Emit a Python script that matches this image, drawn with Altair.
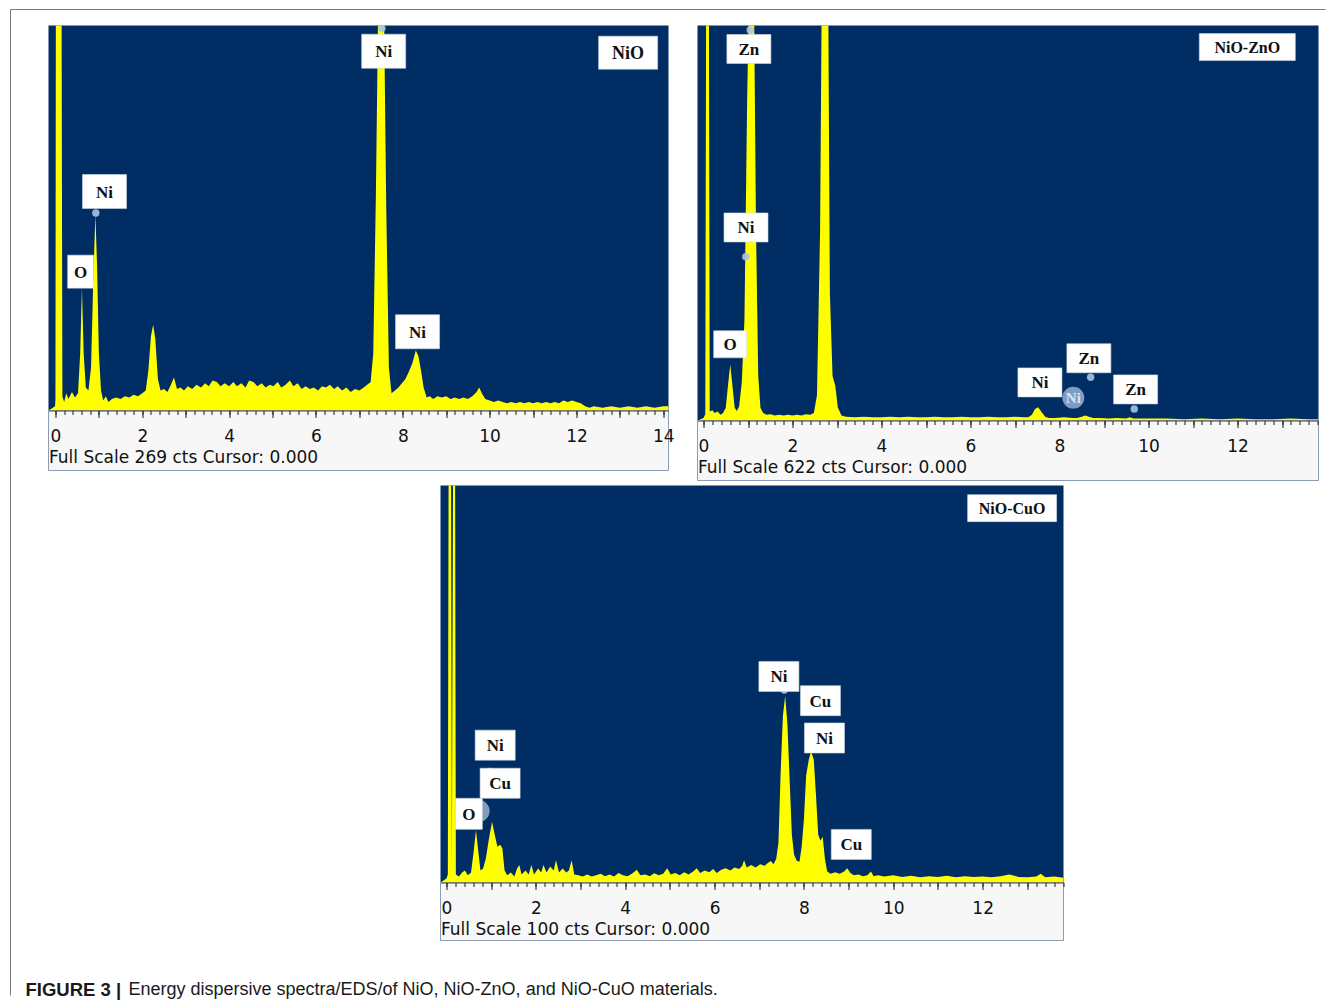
import altair as alt
import pandas as pd

BLUE = "#002E64"
YELLOW = "#FFFF00"
MARK = "#A9C3E2"

# ---------------- NiO spectrum (Full Scale 269 cts) ----------------
nio_e = [-0.16, -0.01, 0.00, 0.01, 0.14, 0.16, 0.20, 0.25, 0.30, 0.38, 0.45, 0.52, 0.57, 0.61, 0.65, 0.70,
         0.76, 0.82, 0.87, 0.92, 0.96, 1.00, 1.05, 1.10, 1.16, 1.22, 1.30, 1.40, 1.50, 1.60, 1.70, 1.80,
         1.90, 2.00, 2.08, 2.14, 2.20, 2.25, 2.30, 2.36, 2.42, 2.50, 2.58, 2.66, 2.73, 2.80, 2.88, 2.96,
         3.05, 3.15, 3.25, 3.35, 3.45, 3.53, 3.62, 3.72, 3.80, 3.90, 4.00, 4.10, 4.18, 4.28, 4.38, 4.46,
         4.56, 4.65, 4.75, 4.84, 4.94, 5.02, 5.12, 5.20, 5.30, 5.40, 5.48, 5.58, 5.67, 5.76, 5.86, 5.95,
         6.05, 6.14, 6.23, 6.32, 6.42, 6.50, 6.60, 6.70, 6.80, 6.90, 7.00, 7.10, 7.18, 7.26, 7.32, 7.38,
         7.44, 7.56, 7.62, 7.68, 7.74, 7.82, 7.90, 7.98, 8.06, 8.14, 8.22, 8.30, 8.36, 8.42, 8.48, 8.55,
         8.62, 8.70, 8.80, 8.90, 9.00, 9.10, 9.20, 9.30, 9.40, 9.50, 9.60, 9.70, 9.76, 9.82, 9.90, 10.00,
         10.10, 10.20, 10.30, 10.40, 10.50, 10.60, 10.70, 10.80, 10.90, 11.00, 11.10, 11.20, 11.30, 11.40,
         11.50, 11.60, 11.70, 11.80, 11.90, 12.00, 12.10, 12.20, 12.30, 12.40, 12.60, 12.80, 13.00, 13.20,
         13.40, 13.60, 13.80, 14.00, 14.12]
nio_c = [0, 3, 8, 300, 300, 10, 6, 12, 8, 13, 9, 12, 40, 86, 40, 16,
         14, 30, 90, 137, 100, 40, 14, 7, 10, 6, 8, 9, 8, 10, 9, 11,
         10, 12, 14, 28, 52, 60, 50, 22, 14, 15, 13, 18, 23, 15, 16, 14,
         17, 15, 18, 16, 19, 17, 21, 20, 17, 19, 17, 20, 17, 19, 16, 21,
         20, 17, 19, 16, 18, 17, 20, 16, 18, 21, 17, 19, 15, 17, 15, 16,
         14, 17, 16, 18, 15, 17, 14, 16, 13, 15, 14, 16, 18, 20, 40, 150,
         300, 300, 140, 30, 12, 14, 16, 19, 22, 27, 33, 42, 38, 28, 16, 9,
         10, 8, 10, 9, 10, 8, 9, 8, 9, 8, 10, 13, 16, 12, 8, 7,
         6, 7, 6, 5, 6, 5, 6, 5, 6, 5, 6, 5, 6, 5,
         6, 5, 7, 6, 7, 6, 5, 3, 2, 3, 2, 3, 2, 3,
         2, 3, 2, 3, 3]
nio_lab_e = [7.56, 1.13, 0.58, 8.34]
nio_lab_c = [251, 153, 97, 55]
nio_lab_t = ["Ni", "Ni", "O", "Ni"]
nio_name = ["NiO"]
nio_name_e = [13.19]
nio_name_c = [250]
nio_mark_e = [0.93, 0.84, 7.52]
nio_mark_c = [138, 148, 267]

# ---------------- NiO-ZnO spectrum (Full Scale 622 cts) ----------------
zno_e = [-0.135, 0.00, 0.04, 0.06, 0.12, 0.14, 0.20, 0.25, 0.32, 0.38, 0.44, 0.50, 0.55, 0.60, 0.65, 0.70,
         0.75, 0.80, 0.86, 0.92, 0.98, 1.03, 1.13, 1.18, 1.23, 1.28, 1.34, 1.42, 1.50, 1.60, 1.70, 1.80,
         1.90, 2.00, 2.10, 2.20, 2.30, 2.40, 2.48, 2.55, 2.62, 2.66, 2.80, 2.84, 2.90, 2.96, 3.02, 3.10,
         3.20, 3.40, 3.60, 3.80, 4.00, 4.20, 4.40, 4.60, 4.80, 5.00, 5.20, 5.40, 5.60, 5.80, 6.00, 6.20,
         6.40, 6.60, 6.80, 7.00, 7.20, 7.30, 7.38, 7.45, 7.52, 7.60, 7.68, 7.76, 7.90, 8.10, 8.30, 8.40,
         8.50, 8.58, 8.66, 8.76, 8.90, 9.10, 9.30, 9.50, 9.58, 9.66, 9.80, 10.00, 10.40, 10.80, 11.20,
         11.60, 12.00, 12.40, 12.80, 13.20, 13.60, 13.82]
zno_c = [0, 4, 10, 700, 700, 14, 16, 12, 14, 9, 12, 20, 55, 88, 55, 20,
         15, 22, 60, 160, 500, 700, 700, 300, 70, 20, 12, 9, 10, 8, 9, 8,
         9, 8, 9, 8, 10, 9, 12, 40, 300, 700, 700, 200, 70, 55, 20, 8,
         6, 5, 6, 5, 5, 6, 5, 6, 5, 5, 6, 5, 5, 6, 5, 5,
         6, 5, 5, 6, 5, 5, 9, 18, 21, 13, 6, 4, 4, 5, 4, 4,
         6, 8, 6, 4, 4, 3, 4, 3, 5, 3, 3, 3, 3, 2, 3,
         2, 3, 2, 2, 3, 2, 2]
zno_lab_e = [1.02, 0.955, 0.60, 7.56, 8.66, 9.71]
zno_lab_c = [585, 304, 120, 60, 98, 49]
zno_lab_t = ["Zn", "Ni", "O", "Ni", "Zn", "Zn"]
zno_name = ["NiO-ZnO"]
zno_name_e = [12.22]
zno_name_c = [588]
zno_mark_e = [1.05, 8.70, 9.68, 0.95]
zno_mark_c = [615, 68, 18, 258]
zno_ghost_e = [8.31]
zno_ghost_c = [36]
zno_ghost_t = ["Ni"]

# ---------------- NiO-CuO spectrum (Full Scale 100 cts) ----------------
cuo_e = [-0.134, 0.00, 0.03, 0.05, 0.10, 0.12, 0.15, 0.19, 0.21, 0.28, 0.35, 0.41, 0.48, 0.55, 0.61, 0.66,
         0.71, 0.76, 0.82, 0.88, 0.95, 1.02, 1.08, 1.14, 1.20, 1.25, 1.30, 1.36, 1.44, 1.52, 1.58, 1.63,
         1.68, 1.77, 1.84, 1.90, 1.96, 2.05, 2.12, 2.17, 2.24, 2.32, 2.40, 2.45, 2.52, 2.60, 2.68, 2.74,
         2.80, 2.86, 2.95, 3.05, 3.15, 3.25, 3.35, 3.45, 3.55, 3.65, 3.75, 3.85, 3.95, 4.05, 4.15, 4.26,
         4.34, 4.45, 4.55, 4.65, 4.75, 4.85, 4.94, 5.02, 5.12, 5.22, 5.32, 5.42, 5.52, 5.60, 5.68, 5.78,
         5.88, 5.97, 6.05, 6.15, 6.25, 6.35, 6.45, 6.55, 6.62, 6.66, 6.72, 6.82, 6.92, 7.02, 7.12, 7.20,
         7.26, 7.32, 7.38, 7.43, 7.48, 7.53, 7.58, 7.63, 7.68, 7.73, 7.78, 7.84, 7.90, 7.95, 8.00, 8.05,
         8.11, 8.16, 8.22, 8.27, 8.32, 8.37, 8.42, 8.47, 8.52, 8.60, 8.70, 8.80, 8.90, 8.97, 9.04, 9.12,
         9.22, 9.32, 9.42, 9.50, 9.56, 9.66, 9.80, 10.00, 10.20, 10.40, 10.60, 10.80, 11.00, 11.20, 11.40,
         11.60, 11.80, 12.00, 12.20, 12.40, 12.60, 12.80, 13.00, 13.20, 13.30, 13.40, 13.60, 13.81]
cuo_c = [0, 1, 2, 120, 120, 3, 120, 120, 2, 1.5, 2.5, 3, 1.8, 2.5, 8, 13.2,
         8, 3, 3.5, 6, 11, 15.3, 12, 9, 9.5, 8.6, 3, 1.8, 2.5, 1.5, 3.5, 4.4,
         2, 3, 2, 4.4, 2, 3.5, 2.5, 4.4, 2.5, 4, 3, 5.6, 2.5, 3.5, 2.5, 3,
         5.6, 2, 1.8, 1.5, 2, 1.5, 1.8, 2.2, 1.6, 2, 1.5, 2.4, 1.8, 1.6, 2.2, 3.2,
         1.8, 2, 1.6, 2.3, 1.8, 2.2, 3.6, 2, 2.4, 1.8, 2.6, 2, 2.8, 3.6, 2.4, 3,
         2.6, 3.4, 2.4, 3.2, 3.6, 3, 3.8, 3.4, 4.2, 5.6, 3.8, 4.4, 3.8, 4.6, 4.2, 5,
         5.4, 4.6, 6, 10, 28, 42, 47, 40, 26, 12, 7, 5.5, 5.2, 9, 16, 27,
         31, 33, 31, 22, 12, 10.5, 11.5, 6, 2.8, 2.2, 2.6, 2.2, 2.8, 3.6, 2.4, 1.8,
         2, 1.6, 1.8, 2.8, 1.6, 1.8, 1.5, 1.8, 1.4, 1.7, 1.3, 1.6, 1.4, 1.7, 1.3,
         1.6, 1.4, 1.5, 1.3, 1.6, 2, 1.4, 1.3, 1.5, 2.2, 1.3, 1.5, 1.2]
cuo_lab_e = [7.44, 8.37, 8.46, 9.06, 1.09, 1.20, 0.50]
cuo_lab_c = [51.9, 45.8, 36.4, 9.6, 34.6, 25.0, 17.3]
cuo_lab_t = ["Ni", "Cu", "Ni", "Cu", "Ni", "Cu", "O"]
cuo_name = ["NiO-CuO"]
cuo_name_e = [12.66]
cuo_name_c = [94.3]
cuo_mark_e = [0.97, 7.56, 8.08, 8.25]
cuo_mark_c = [28, 48.5, 44, 37]
cuo_ghost_e = [0.72]
cuo_ghost_c = [18]
cuo_ghost_t = [""]

caption_bold = ["FIGURE 3 |"]
caption_text = ["Energy dispersive spectra/EDS/of NiO, NiO-ZnO, and NiO-CuO materials."]
major_ticks = list(range(0, 15))
minor_ticks = [round(0.2 * i, 1) for i in range(0, 71)]


def panel(e, c, fs, xdom, w, h, strip_h, lab_e, lab_c, lab_t, name_t, name_e, name_c,
          name_box, name_size, box2, box1, mark_e, mark_c, fs_text,
          ghost_e=None, ghost_c=None, ghost_t=None):
    spec = pd.DataFrame({"E": e, "C": c})
    labs = pd.DataFrame({"E": lab_e, "C": lab_c, "T": lab_t})
    names = pd.DataFrame({"E": name_e, "C": name_c, "T": name_t})
    marks = pd.DataFrame({"E": mark_e, "C": mark_c})
    one = pd.DataFrame({"a": [0]})

    xs = alt.Scale(domain=xdom, nice=False, zero=False)
    ys = alt.Scale(domain=[0, fs], nice=False)

    major_axis = alt.Axis(orient="bottom", values=major_ticks, tickSize=7, tickColor="#1a1a1a",
                          domain=True, domainColor="#444444", grid=False,
                          labelExpr="datum.value % 2 == 0 ? datum.label : ''",
                          labelFont="DejaVu Sans", labelFontSize=17, labelColor="#111111",
                          labelPadding=11, title=fs_text, titleFont="DejaVu Sans",
                          titleFontSize=17, titleFontWeight="normal", titleColor="#111111",
                          titleAnchor="start", titleAlign="left", titlePadding=5, zindex=2)
    minor_axis = alt.Axis(orient="bottom", values=minor_ticks, tickSize=4, tickColor="#1a1a1a",
                          labels=False, domain=False, grid=False, title=None, zindex=2)

    X = lambda ax: alt.X("E:Q", scale=xs, axis=ax)
    Y = alt.Y("C:Q", scale=ys, axis=None)

    strip = alt.Chart(one).mark_rect(fill="#F7F7F7", stroke="#8E9CB2", strokeWidth=1).encode(
        x=alt.value(0), x2=alt.value(w), y=alt.value(h), y2=alt.value(h + strip_h))
    area = alt.Chart(spec).mark_area(color=YELLOW, clip=True, interpolate="linear").encode(
        x=X(major_axis), y=Y)
    mk = alt.Chart(marks).mark_circle(color=MARK, opacity=0.9, size=55).encode(x=X(None), y=Y)

    base_lab = alt.Chart(labs).transform_calculate(n="length(datum.T)")
    box_two = base_lab.transform_filter("datum.n == 2").mark_rect(
        width=box2[0], height=box2[1], fill="white", stroke="#cfd6de", strokeWidth=0.6).encode(
        x=X(minor_axis), y=Y)
    box_one = base_lab.transform_filter("datum.n == 1").mark_rect(
        width=box1[0], height=box1[1], fill="white", stroke="#cfd6de", strokeWidth=0.6).encode(
        x=X(None), y=Y)
    lab_txt = alt.Chart(labs).mark_text(font="Liberation Serif", fontWeight="bold", fontSize=17,
                                        color="#111111", baseline="middle", align="center", dy=1).encode(
        x=X(None), y=Y, text="T:N")
    nbox = alt.Chart(names).mark_rect(width=name_box[0], height=name_box[1], fill="white",
                                      stroke="#cfd6de", strokeWidth=0.6).encode(x=X(None), y=Y)
    ntxt = alt.Chart(names).mark_text(font="Liberation Serif", fontWeight="bold", fontSize=name_size,
                                      color="#111111", baseline="middle", align="center", dy=1).encode(
        x=X(None), y=Y, text="T:N")
    layers = [strip, area, mk]
    if ghost_e is not None:
        gh = pd.DataFrame({"E": ghost_e, "C": ghost_c, "T": ghost_t})
        layers.append(alt.Chart(gh).mark_circle(color=MARK, opacity=0.75, size=480).encode(x=X(None), y=Y))
        layers.append(alt.Chart(gh).mark_text(font="Liberation Serif", fontWeight="bold", fontSize=15,
                                              color="#D8E4F2", baseline="middle").encode(
            x=X(None), y=Y, text="T:N"))
    layers += [box_two, box_one, lab_txt, nbox, ntxt]
    return alt.layer(*layers).properties(
        width=w, height=h, view=alt.ViewBackground(fill=BLUE, stroke=BLUE)
    ).resolve_axis(x="independent")


p1 = panel(nio_e, nio_c, 269, [-0.16, 14.12], 620, 385, 60, nio_lab_e, nio_lab_c, nio_lab_t,
           nio_name, nio_name_e, nio_name_c, (59, 33), 18, (44, 34), (26, 33),
           nio_mark_e, nio_mark_c, "Full Scale 269 cts Cursor: 0.000")
p2 = panel(zno_e, zno_c, 622, [-0.135, 13.82], 621, 395, 60, zno_lab_e, zno_lab_c, zno_lab_t,
           zno_name, zno_name_e, zno_name_c, (96, 27), 16, (44, 29), (33, 27),
           zno_mark_e, zno_mark_c, "Full Scale 622 cts Cursor: 0.000",
           zno_ghost_e, zno_ghost_c, zno_ghost_t)
p3 = panel(cuo_e, cuo_c, 100, [-0.134, 13.81], 623, 397, 58, cuo_lab_e, cuo_lab_c, cuo_lab_t,
           cuo_name, cuo_name_e, cuo_name_c, (89, 27), 16, (40, 30), (27, 31),
           cuo_mark_e, cuo_mark_c, "Full Scale 100 cts Cursor: 0.000",
           cuo_ghost_e, cuo_ghost_c, cuo_ghost_t)

one_row = pd.DataFrame({"a": [0]})
spacer = alt.Chart(one_row).mark_point(opacity=0).properties(width=363, height=10)

cap_b = alt.Chart(pd.DataFrame({"t": caption_bold})).mark_text(
    font="Liberation Sans", fontWeight="bold", fontSize=18.5, color="#1a1a1a", align="left",
    baseline="middle").encode(x=alt.value(-23), y=alt.value(44), text="t:N")
cap_n = alt.Chart(pd.DataFrame({"t": caption_text})).mark_text(
    font="Liberation Sans", fontSize=18, color="#1a1a1a", align="left",
    baseline="middle").encode(x=alt.value(80), y=alt.value(44), text="t:N")
frame_l = alt.Chart(one_row).mark_rule(color="#7a7a7a", strokeWidth=1).encode(
    x=alt.value(-38), y=alt.value(-936), y2=alt.value(50))
frame_t = alt.Chart(one_row).mark_rule(color="#7a7a7a", strokeWidth=1).encode(
    x=alt.value(-38), x2=alt.value(1277), y=alt.value(-936))
caption = alt.layer(frame_l, frame_t, cap_b, cap_n).properties(width=10, height=50)

row1 = alt.hconcat(p1, p2, spacing=29, bounds="flush")
row2 = alt.hconcat(spacer, p3, spacing=29, bounds="flush")
chart = alt.vconcat(row1, row2, caption, spacing=460, bounds="flush").properties(
    padding={"left": 1.5, "top": 0.5, "right": 0, "bottom": 0}
).configure_view(strokeWidth=0)

chart.save("out.html", embed_options={"renderer": "svg", "actions": False})
